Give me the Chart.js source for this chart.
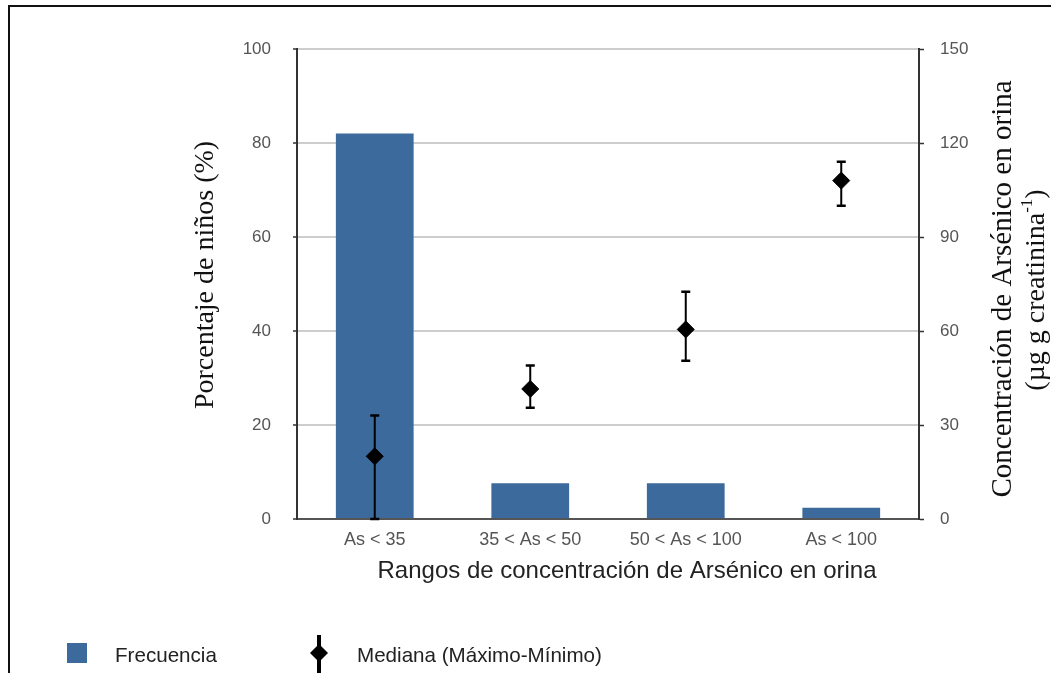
<!DOCTYPE html>
<html>
<head>
<meta charset="utf-8">
<script src="https://cdn.jsdelivr.net/npm/chart.js@4.4.1/dist/chart.umd.min.js"></script>
<style>
  html, body { margin:0; padding:0; background:#fff; }
  #wrap { position:relative; width:1051px; height:673px; overflow:hidden; font-family:"Liberation Sans", Arial, sans-serif; }
  #frame { position:absolute; left:8px; top:5px; width:1100px; height:720px; border:2px solid #111; box-sizing:border-box; }
  #chart { position:absolute; left:0; top:0; }
  .lg { position:absolute; font-size:20.6px; color:#222; line-height:20px; white-space:nowrap; }
  .sq { position:absolute; left:67px; top:643px; width:20px; height:20px; background:#3c6a9c; }
  #mk { position:absolute; left:305px; top:630px; }
</style>
</head>
<body>
<div id="wrap">
  <div id="frame"></div>
  <canvas id="chart" width="1051" height="673"></canvas>
  <div class="sq"></div>
  <div class="lg" style="left:115px; top:645px;">Frecuencia</div>
  <svg id="mk" width="30" height="43">
    <line x1="14" y1="5" x2="14" y2="43" stroke="#000" stroke-width="4"/>
    <polygon points="14,14 23,23 14,32 5,23" fill="#000"/>
  </svg>
  <div class="lg" style="left:357px; top:645px;">Mediana (Máximo-Mínimo)</div>
</div>
<script>
// ---- data ----
const categories = ["As < 35", "35 < As < 50", "50 < As < 100", "As < 100"];
const frecuencia = [82, 7.6, 7.6, 2.4];          // % de niños
const mediana = [20, 41.5, 60.5, 108];           // µg g creatinina-1
const maximo  = [33, 49, 72.5, 114];
const minimo  = [0, 35.5, 50.5, 100];
const leftTicks = [0, 20, 40, 60, 80, 100];
const rightTicks = [0, 30, 60, 90, 120, 150];

const errorBars = {
  id: 'errorBars',
  beforeDatasetDraw(chart, args) {
    if (args.index !== 1) return;
    const meta = chart.getDatasetMeta(1);
    const y1 = chart.scales.y1;
    const ctx = chart.ctx;
    ctx.save();
    ctx.strokeStyle = '#000';
    meta.data.forEach((pt, i) => {
      const yt = y1.getPixelForValue(maximo[i]);
      const yb = y1.getPixelForValue(minimo[i]);
      ctx.lineWidth = 2;
      ctx.beginPath();
      ctx.moveTo(pt.x, yt); ctx.lineTo(pt.x, yb);
      ctx.stroke();
      ctx.lineWidth = 2.5;
      ctx.beginPath();
      ctx.moveTo(pt.x - 4.5, yt); ctx.lineTo(pt.x + 4.5, yt);
      ctx.moveTo(pt.x - 4.5, yb); ctx.lineTo(pt.x + 4.5, yb);
      ctx.stroke();
    });
    ctx.restore();
  }
};

const titles = {
  id: 'titles',
  afterDraw(chart) {
    const ctx = chart.ctx;
    ctx.save();
    ctx.fillStyle = '#111';
    ctx.textBaseline = 'middle';
    ctx.textAlign = 'center';
    const serif = '"Liberation Serif", "Times New Roman", serif';
    // left title
    ctx.font = '28px ' + serif;
    ctx.save();
    ctx.translate(206, 275);
    ctx.rotate(-Math.PI / 2);
    ctx.fillText('Porcentaje de niños (%)', 0, 0);
    ctx.restore();
    // right title line 1
    ctx.font = '29px ' + serif;
    ctx.save();
    ctx.translate(1003, 289);
    ctx.rotate(-Math.PI / 2);
    ctx.fillText('Concentración de Arsénico en orina', 0, 0);
    ctx.restore();
    // right title line 2 with superscript
    ctx.save();
    ctx.translate(1037, 290);
    ctx.rotate(-Math.PI / 2);
    const big = '28px ' + serif;
    const small = '17px ' + serif;
    const a = '(µg g creatinina', s = '-1', b = ')';
    ctx.font = big; const wa = ctx.measureText(a).width; const wb = ctx.measureText(b).width;
    ctx.font = small; const ws = ctx.measureText(s).width;
    let x = -(wa + ws + wb) / 2;
    ctx.textAlign = 'left';
    ctx.font = big; ctx.fillText(a, x, 0); x += wa;
    ctx.font = small; ctx.fillText(s, x, -9); x += ws;
    ctx.font = big; ctx.fillText(b, x, 0);
    ctx.restore();
    // x title
    ctx.fillStyle = '#222';
    ctx.textAlign = 'center';
    ctx.textBaseline = 'alphabetic';
    ctx.font = '24px "Liberation Sans", Arial, sans-serif';
    ctx.fillText('Rangos de concentración de Arsénico en orina', 627, 578);
    ctx.restore();
  }
};

new Chart(document.getElementById('chart'), {
  data: {
    labels: categories,
    datasets: [
      {
        type: 'bar',
        label: 'Frecuencia',
        data: frecuencia,
        backgroundColor: '#3c6a9c',
        borderWidth: 0,
        barPercentage: 0.5,
        categoryPercentage: 1,
        xAxisID: 'x',
        yAxisID: 'y',
        order: 2
      },
      {
        type: 'line',
        label: 'Mediana (Máximo-Mínimo)',
        data: mediana,
        showLine: false,
        pointStyle: 'rectRot',
        pointRadius: 8.5,
        pointBorderWidth: 1,
        pointBackgroundColor: '#000',
        pointBorderColor: '#000',
        xAxisID: 'x',
        yAxisID: 'y1',
        order: 1
      }
    ]
  },
  options: {
    responsive: false,
    animation: false,
    events: [],
    layout: { padding: { top: 49, left: 0, right: 0, bottom: 0 } },
    plugins: { legend: { display: false }, tooltip: { enabled: false } },
    scales: {
      x: {
        type: 'category',
        position: 'bottom',
        offset: true,
        afterFit: s => { s.height = 154; },
        grid: { display: false, drawTicks: false },
        border: { display: true, color: '#555', width: 2 },
        ticks: {
          padding: 10,
          color: '#555',
          font: { family: '"Liberation Sans", Arial, sans-serif', size: 18 },
          maxRotation: 0,
          autoSkip: false
        }
      },
      y: {
        type: 'linear',
        position: 'left',
        min: 0,
        max: 100,
        afterBuildTicks: s => { s.ticks = leftTicks.map(v => ({ value: v })); },
        afterFit: s => { s.width = 297; },
        grid: { color: '#cdcdcd', lineWidth: 2, tickColor: '#333', tickLength: 4, tickWidth: 1.5 },
        border: { display: true, color: '#333', width: 2 },
        ticks: {
          padding: 22,
          color: '#555',
          font: { family: '"Liberation Sans", Arial, sans-serif', size: 17 }
        }
      },
      y1: {
        type: 'linear',
        position: 'right',
        min: 0,
        max: 150,
        afterBuildTicks: s => { s.ticks = rightTicks.map(v => ({ value: v })); },
        afterFit: s => { s.width = 132; },
        grid: { drawOnChartArea: false, tickColor: '#333', tickLength: 5, tickWidth: 1.5 },
        border: { display: true, color: '#333', width: 2 },
        ticks: {
          padding: 16,
          color: '#555',
          font: { family: '"Liberation Sans", Arial, sans-serif', size: 17 }
        }
      }
    }
  },
  plugins: [errorBars, titles]
});
</script>
</body>
</html>
